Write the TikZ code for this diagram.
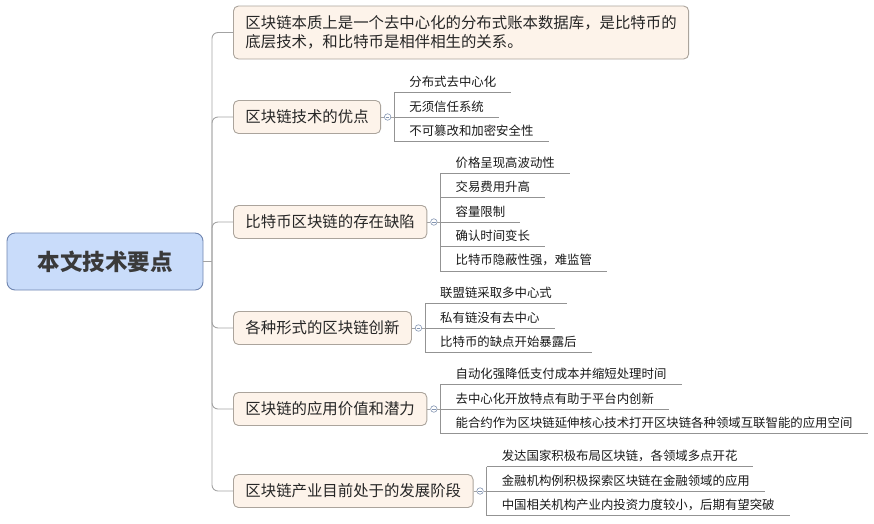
\documentclass[tikz,border=0pt]{standalone}
\usepackage{fontspec}
\setmainfont{Noto Sans CJK SC}
\usepackage{xcolor}
\definecolor{CRootFill}{HTML}{C9DCFA}
\definecolor{CRootLine}{HTML}{6F85B0}
\definecolor{CRootText}{HTML}{3A3A3A}
\definecolor{CTopicFill}{HTML}{FDF3EA}
\definecolor{CTopicLine}{HTML}{ABA49C}
\definecolor{CLine}{HTML}{A3A3A3}
\definecolor{CFold}{HTML}{8395B2}
\usepackage{tikz}
\usetikzlibrary{positioning}
\tikzstyle{rootNode}=[rectangle, rounded corners=8pt, draw=CRootLine, fill=CRootFill,
  line width=0.9pt, minimum width=196pt, minimum height=57pt, text=CRootText,
  font=\fontsize{22.5pt}{26pt}\selectfont\bfseries]
\tikzstyle{topicNode}=[rectangle, rounded corners=5pt, draw=CTopicLine, fill=CTopicFill,
  line width=0.9pt, inner xsep=12pt, minimum height=33pt, anchor=west, align=left,
  text=black!85, font=\fontsize{15.4pt}{19pt}\selectfont]
\tikzstyle{leafNode}=[inner xsep=15pt, inner ysep=4.5pt, anchor=south west,
  text=black!90, font=\fontsize{12.4pt}{15pt}\selectfont]
\tikzstyle{foldNode}=[circle, draw=CFold, fill=white, line width=0.6pt, minimum size=6.5pt,
  inner sep=0pt, path picture={\draw[CFold, line width=0.5pt]
  ([xshift=1.5pt]path picture bounding box.west) -- ([xshift=-1.5pt]path picture bounding box.east);}]
\tikzstyle{conn}=[draw=CLine, line width=0.9pt, rounded corners=6pt]
\tikzstyle{leafLine}=[draw=CLine!90!black, line width=0.8pt]

\begin{document}
\begin{tikzpicture}[x=1pt, y=-1pt]
\useasboundingbox (0,0) rectangle (874,523);
% centre topic
\node[rootNode] (root) at (105,261.5) {本文技术要点};
\coordinate (hub) at (212,261.5);
% main topics
\node[topicNode, minimum height=53pt] (b1) at (233,32.5)
  {区块链本质上是一个去中心化的分布式账本数据库，是比特币的\\底层技术，和比特币是相伴相生的关系。};
\node[topicNode] (b2) at (233,117) {区块链技术的优点};
\node[topicNode] (b3) at (233,222) {比特币区块链的存在缺陷};
\node[topicNode] (b4) at (233,328) {各种形式的区块链创新};
\node[topicNode] (b5) at (233,409) {区块链的应用价值和潜力};
\node[topicNode] (b6) at (233,491) {区块链产业目前处于的发展阶段};
% fold marks
\node[foldNode, right=3pt of b2] (f2) {};
\node[foldNode, right=3pt of b3] (f3) {};
\node[foldNode, right=3pt of b4] (f4) {};
\node[foldNode, right=3pt of b5] (f5) {};
\node[foldNode, right=3pt of b6] (f6) {};
\coordinate[right=3pt of f2] (k2);
\coordinate[right=3pt of f3] (k3);
\coordinate[right=3pt of f4] (k4);
\coordinate[right=3pt of f5] (k5);
\coordinate[right=3pt of f6] (k6);
% sub topics
\node[leafNode] (l21) at (k2 |- 0,92.5) {分布式去中心化};
\node[leafNode] (l22) at (k2 |- 0,117) {无须信任系统};
\node[leafNode] (l23) at (k2 |- 0,141.5) {不可篡改和加密安全性};
\node[leafNode] (l31) at (k3 |- 0,173) {价格呈现高波动性};
\node[leafNode] (l32) at (k3 |- 0,197.5) {交易费用升高};
\node[leafNode] (l33) at (k3 |- 0,222) {容量限制};
\node[leafNode] (l34) at (k3 |- 0,246.5) {确认时间变长};
\node[leafNode] (l35) at (k3 |- 0,271) {比特币隐蔽性强，难监管};
\node[leafNode] (l41) at (k4 |- 0,303.5) {联盟链采取多中心式};
\node[leafNode] (l42) at (k4 |- 0,328) {私有链没有去中心};
\node[leafNode] (l43) at (k4 |- 0,352.5) {比特币的缺点开始暴露后};
\node[leafNode] (l51) at (k5 |- 0,384.5) {自动化强降低支付成本并缩短处理时间};
\node[leafNode] (l52) at (k5 |- 0,409) {去中心化开放特点有助于平台内创新};
\node[leafNode] (l53) at (k5 |- 0,433.5) {能合约作为区块链延伸核心技术打开区块链各种领域互联智能的应用空间};
\node[leafNode] (l61) at (k6 |- 0,466.5) {发达国家积极布局区块链，各领域多点开花};
\node[leafNode] (l62) at (k6 |- 0,491) {金融机构例积极探索区块链在金融领域的应用};
\node[leafNode] (l63) at (k6 |- 0,515.5) {中国相关机构产业内投资力度较小，后期有望突破};
% trunk
\draw[conn] (root.east) -- (hub);
\draw[conn] (hub) |- (b1.west);
\draw[conn] (hub) |- (b2.west);
\draw[conn] (hub) |- (b3.west);
\draw[conn] (hub) |- (b4.west);
\draw[conn] (hub) |- (b5.west);
\draw[conn] (hub) |- (b6.west);
% topic to fold to bracket
\draw[conn] (b2.east) -- (f2.west);
\draw[conn] (f2.east) -- (k2);
\draw[conn] (b3.east) -- (f3.west);
\draw[conn] (f3.east) -- (k3);
\draw[conn] (b4.east) -- (f4.west);
\draw[conn] (f4.east) -- (k4);
\draw[conn] (b5.east) -- (f5.west);
\draw[conn] (f5.east) -- (k5);
\draw[conn] (b6.east) -- (f6.west);
\draw[conn] (f6.east) -- (k6);
% brackets
\draw[leafLine] (l21.south west) -- (l23.south west);
\draw[leafLine] (l31.south west) -- (l35.south west);
\draw[leafLine] (l41.south west) -- (l43.south west);
\draw[leafLine] (l51.south west) -- (l53.south west);
\draw[leafLine] (l61.south west) -- (l63.south west);
% underlines
\draw[leafLine] (l21.south west) -- (l21.south east);
\draw[leafLine] (l22.south west) -- (l22.south east);
\draw[leafLine] (l23.south west) -- (l23.south east);
\draw[leafLine] (l31.south west) -- (l31.south east);
\draw[leafLine] (l32.south west) -- (l32.south east);
\draw[leafLine] (l33.south west) -- (l33.south east);
\draw[leafLine] (l34.south west) -- (l34.south east);
\draw[leafLine] (l35.south west) -- (l35.south east);
\draw[leafLine] (l41.south west) -- (l41.south east);
\draw[leafLine] (l42.south west) -- (l42.south east);
\draw[leafLine] (l43.south west) -- (l43.south east);
\draw[leafLine] (l51.south west) -- (l51.south east);
\draw[leafLine] (l52.south west) -- (l52.south east);
\draw[leafLine] (l53.south west) -- (l53.south east);
\draw[leafLine] (l61.south west) -- (l61.south east);
\draw[leafLine] (l62.south west) -- (l62.south east);
\draw[leafLine] (l63.south west) -- (l63.south east);
\end{tikzpicture}
\end{document}
